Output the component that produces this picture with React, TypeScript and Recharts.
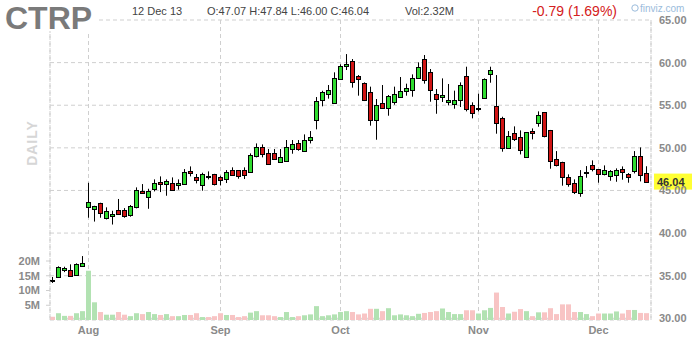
import { ComposedChart, Bar, XAxis, YAxis, CartesianGrid, ReferenceLine } from 'recharts'

// daily bars, 24 Jul 2013 .. 12 Dec 2013
const opens = [
  34.55, 34.8, 35.62, 35.62, 35.07, 36.16, 43.02, 42.78, 43.48, 41.72,
  41.96, 42.66, 42.7, 42.08, 43.02, 44.9, 44.26, 45.2, 45.99, 45.71,
  45.83, 45.59, 45.79, 47.24, 46.53, 45.67, 46.72, 46.93, 46.53, 46.38,
  47.36, 47.36, 47.43, 47.2, 49.08, 50.05, 49.43, 49.35, 48.37, 48.41,
  49.82, 50.6, 49.59, 50.88, 53.22, 55.57, 56.28, 55.3, 58.04, 59.56,
  60.19, 58.43, 57.6, 56.51, 53.22, 55.26, 54.71, 55.34, 55.92, 56.7,
  56.75, 58.23, 60.42, 58.86, 56.32, 55.92, 55.34, 55.18, 55.65, 58.39,
  54.98, 54.66, 55.88, 58.7, 54.87, 53.46, 49.94, 51.7, 51.23, 48.88,
  51.97, 52.87, 54.16, 52.09, 48.65, 48.29, 46.53, 45.83, 44.65, 47.18,
  47.94, 47.47, 46.89, 46.73, 46.77, 47.47, 46.89, 47.24, 49.0, 47.07,
]
const highs = [
  34.85, 36.1, 36.05, 36.33, 36.45, 37.3, 45.9, 43.2, 43.56, 43.02,
  42.62, 44.0, 42.93, 43.29, 45.36, 45.75, 45.2, 46.3, 46.65, 46.3,
  46.53, 46.3, 47.51, 47.82, 46.93, 47.08, 47.24, 46.95, 46.73, 47.39,
  47.71, 47.4, 47.71, 49.35, 50.52, 50.4, 49.86, 49.86, 49.86, 50.92,
  50.92, 50.92, 51.58, 51.97, 55.96, 56.7, 57.37, 58.86, 59.8, 61.0,
  60.42, 58.54, 57.68, 57.18, 55.73, 57.37, 56.2, 57.18, 58.31, 57.53,
  58.62, 60.03, 60.89, 59.25, 56.9, 58.15, 57.49, 56.71, 57.68, 59.52,
  55.34, 56.35, 58.15, 59.52, 58.54, 53.65, 51.97, 52.52, 52.05, 51.85,
  52.28, 54.28, 54.2, 52.1, 49.62, 48.37, 46.89, 46.3, 47.39, 47.86,
  48.53, 47.5, 47.94, 47.39, 47.59, 47.82, 47.04, 49.62, 50.05, 47.84,
]
const lows = [
  34.15, 34.75, 35.42, 34.95, 35.0, 36.05, 41.8, 41.35, 41.8, 41.6,
  41.0, 42.15, 41.8, 41.92, 42.9, 44.65, 42.85, 44.89, 44.81, 44.38,
  44.97, 45.09, 45.71, 46.65, 45.83, 44.97, 46.3, 45.59, 45.59, 45.87,
  46.8, 46.38, 46.34, 47.1, 48.88, 48.88, 48.06, 48.65, 48.26, 48.35,
  49.31, 49.66, 49.55, 50.52, 52.17, 54.87, 55.77, 55.22, 57.96, 59.13,
  57.06, 56.12, 55.49, 52.6, 50.95, 54.59, 53.77, 55.06, 55.9, 56.12,
  56.0, 58.2, 57.53, 55.41, 54.0, 55.38, 54.98, 54.59, 54.79, 54.28,
  53.46, 54.28, 55.77, 57.64, 51.66, 49.55, 49.9, 50.8, 49.23, 48.85,
  50.99, 52.48, 51.23, 47.55, 47.82, 45.56, 45.44, 44.58, 44.26, 46.49,
  47.24, 45.91, 46.77, 46.14, 46.02, 46.26, 45.91, 47.0, 46.06, 46.0,
]
const closes = [
  34.35, 35.97, 35.89, 35.0, 36.33, 36.44, 43.6, 43.13, 42.35, 42.54,
  42.23, 42.19, 41.96, 43.13, 45.0, 44.73, 44.93, 45.83, 45.71, 46.06,
  45.09, 45.83, 47.16, 47.0, 46.26, 46.93, 46.66, 45.71, 46.18, 47.12,
  46.85, 46.73, 46.85, 49.15, 50.13, 49.23, 48.14, 48.72, 48.88, 50.13,
  50.41, 49.9, 50.88, 51.23, 55.45, 56.51, 56.78, 58.23, 59.6, 59.84,
  57.76, 58.04, 55.61, 53.3, 54.99, 54.71, 56.04, 56.32, 56.63, 56.98,
  58.15, 59.44, 57.92, 56.75, 55.77, 56.16, 55.57, 55.57, 57.37, 54.59,
  54.05, 54.68, 58.04, 59.13, 52.87, 49.94, 51.35, 50.99, 49.7, 51.81,
  51.74, 53.81, 51.35, 48.49, 47.94, 46.53, 45.71, 44.85, 46.65, 47.22,
  47.47, 46.96, 47.36, 47.24, 47.36, 47.12, 46.53, 49.0, 46.83, 46.04,
]
// volume, millions
const volumes = [
  1.1, 2.3, 1.4, 1.4, 2.3, 3.0, 16.7, 6.0, 2.7, 1.8,
  1.8, 2.7, 1.8, 1.3, 2.3, 2.0, 2.7, 2.0, 1.7, 2.0,
  1.3, 1.3, 1.7, 1.7, 2.3, 1.0, 1.0, 1.3, 2.3, 1.7,
  1.7, 1.0, 1.3, 2.5, 3.0, 1.6, 1.6, 1.3, 1.0, 2.7,
  1.0, 1.3, 1.6, 1.9, 4.7, 1.3, 1.6, 1.9, 2.7, 3.0,
  2.7, 1.9, 2.2, 3.8, 3.8, 3.0, 4.0, 1.6, 1.9, 1.6,
  1.3, 2.1, 2.4, 2.7, 3.0, 3.9, 2.7, 2.0, 2.0, 3.3,
  3.3, 2.2, 3.3, 4.1, 9.3, 4.4, 2.2, 2.8, 3.7, 3.0,
  1.3, 2.6, 2.6, 4.0, 2.0, 5.3, 5.3, 2.7, 2.7, 2.0,
  1.3, 2.2, 2.2, 2.2, 2.9, 2.2, 3.4, 3.4, 2.4, 2.32,
]

const monthStarts = [6, 28, 48, 71, 91]
const monthLabels = ['Aug', 'Sep', 'Oct', 'Nov', 'Dec']
const priceTicks = [30, 35, 40, 45, 50, 55, 60, 65]
const volumeTicks = [5, 10, 15, 20]

const FONT = '"Liberation Sans", Arial, sans-serif'
const GREEN = '#2fdc2f'
const RED = '#d01414'
const VOL_GREEN = '#b2e2b2'
const VOL_RED = '#f8c4c4'
const GRID = '#cfcfcf'

const xDomain: [number, number] = [-0.4167, 99.75]

const data = opens.map((o, i) => ({
  i,
  open: o,
  high: highs[i],
  low: lows[i],
  close: closes[i],
  vol: volumes[i],
}))

function Candle(props: any) {
  const { x, y, width, height, payload } = props
  const { open, close, high, low } = payload
  const k = height / (high - low)
  const cx = Math.floor(x + width / 2) + 0.5
  const top = Math.round(y + (high - Math.max(open, close)) * k) + 0.5
  let bottom = Math.round(y + (high - Math.min(open, close)) * k) + 0.5
  if (bottom - top < 1) bottom = top + 1
  const up = close >= open
  return (
    <g>
      <line x1={cx} x2={cx} y1={y} y2={y + height} stroke="#000" strokeWidth={1} />
      <rect x={cx - 2} y={top} width={4} height={bottom - top} fill={up ? GREEN : RED} stroke="#000" strokeWidth={1} />
    </g>
  )
}

function VolumeBar(props: any) {
  const { x, y, width, height, payload } = props
  const up = payload.close >= payload.open
  return <rect x={Math.floor(x + width / 2) - 2} y={y} width={5} height={height} fill={up ? VOL_GREEN : VOL_RED} />
}

function LastPrice(props: any) {
  const { x, y, width } = props.viewBox
  const left = x + width + 3
  return (
    <g>
      <rect x={left} y={y - 8} width={38} height={16} fill="#ffff33" />
      <text x={left + 3} y={y + 4} fontFamily={FONT} fontSize={11} fontWeight="bold" fill="#333">
        {closes[closes.length - 1].toFixed(2)}
      </text>
    </g>
  )
}

export default function App() {
  const axisText = { fill: '#8a8a8a', fontSize: 11, fontWeight: 'bold', fontFamily: FONT }
  return (
    <div style={{ position: 'absolute', left: 0, top: 0, width: 700, height: 340, background: '#fff' }}>
      <ComposedChart width={700} height={340} data={data} margin={{ top: 20, right: 0, bottom: 0, left: 0 }}>
        <XAxis
          xAxisId="candle"
          dataKey="i"
          type="number"
          domain={xDomain}
          ticks={monthStarts}
          interval={0}
          tickFormatter={(v: number) => monthLabels[monthStarts.indexOf(v)]}
          axisLine={false}
          tickLine={false}
          tickMargin={0}
          height={20}
          tick={axisText}
        />
        <XAxis xAxisId="vol" dataKey="i" type="number" domain={xDomain} hide />
        <YAxis
          yAxisId="price"
          orientation="right"
          width={49}
          domain={[29.8, 65]}
          ticks={priceTicks}
          interval={0}
          tickFormatter={(v: number) => v.toFixed(2)}
          axisLine={false}
          tickLine={false}
          tick={axisText}
        />
        <YAxis
          yAxisId="vol"
          orientation="left"
          width={50}
          domain={[0, 101.7]}
          ticks={volumeTicks}
          interval={0}
          tickFormatter={(v: number) => `${v}M`}
          axisLine={false}
          tickLine={{ stroke: GRID }}
          tickSize={4}
          tickMargin={6}
          tick={axisText}
        />
        <CartesianGrid xAxisId="candle" yAxisId="price" stroke={GRID} strokeDasharray="4 3" />
        <ReferenceLine xAxisId="candle" yAxisId="price" x={xDomain[0]} stroke={GRID} strokeDasharray="4 3" />
        <ReferenceLine xAxisId="candle" yAxisId="price" x={xDomain[1]} stroke={GRID} strokeDasharray="4 3" />
        <Bar xAxisId="vol" yAxisId="vol" dataKey="vol" barSize={5} shape={<VolumeBar />} isAnimationActive={false} />
        <Bar
          xAxisId="candle"
          yAxisId="price"
          dataKey={(d: any) => [d.low, d.high]}
          barSize={5}
          shape={<Candle />}
          isAnimationActive={false}
        />
        <ReferenceLine
          xAxisId="candle"
          yAxisId="price"
          y={closes[closes.length - 1]}
          stroke="none"
          label={<LastPrice />}
        />
      </ComposedChart>
      <svg width={700} height={340} style={{ position: 'absolute', left: 0, top: 0, pointerEvents: 'none' }}>
        <rect x={0} y={0} width={96} height={31} fill="#fff" />
        <text x={5} y={29} fontFamily={FONT} fontSize={32} fontWeight="bold" fill="#7a7a7a">CTRP</text>
        <text x={132} y={15} fontFamily={FONT} fontSize={11} fill="#444">12 Dec 13</text>
        <text x={207} y={15} fontFamily={FONT} fontSize={11} fill="#444">O:47.07 H:47.84 L:46.00 C:46.04</text>
        <text x={405} y={15} fontFamily={FONT} fontSize={11} fill="#444">Vol:2.32M</text>
        <text x={617} y={16} textAnchor="end" fontFamily={FONT} fontSize={14} fill="#d42020">-0.79 (1.69%)</text>
        <circle cx={635} cy={8} r={3.2} fill="none" stroke="#9bbcdc" strokeWidth={1} />
        <text x={640} y={12} fontFamily={FONT} fontSize={10} fill="#9bbcdc">finviz.com</text>
        <text
          transform="translate(37,143) rotate(-90)"
          textAnchor="middle"
          fontFamily={FONT}
          fontSize={14}
          fontWeight="bold"
          fill="#d6d6d6"
          letterSpacing={1}
        >
          DAILY
        </text>
      </svg>
    </div>
  )
}
